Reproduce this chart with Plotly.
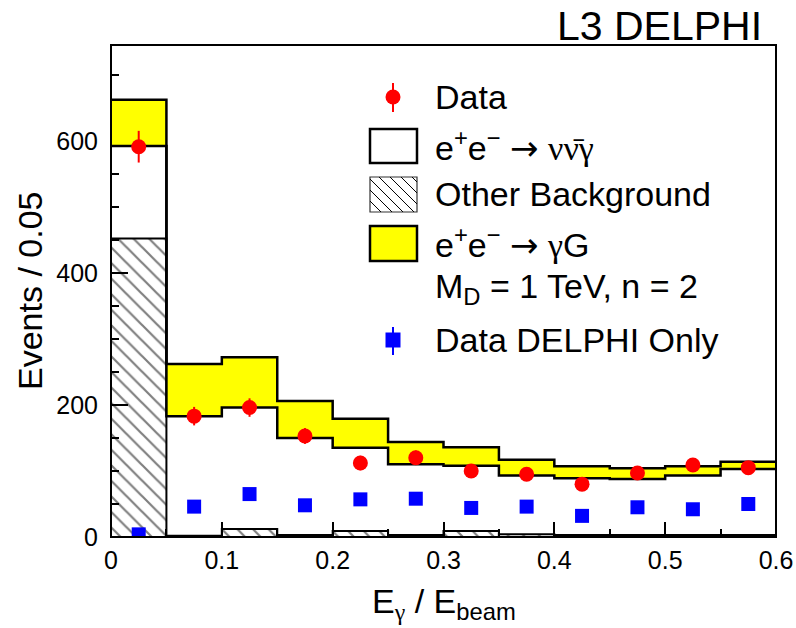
import numpy as np
import plotly.graph_objects as go

# Binning in E_gamma / E_beam
bin_edges = [0.0, 0.05, 0.10, 0.15, 0.20, 0.25, 0.30, 0.35, 0.40, 0.45, 0.50, 0.55, 0.60]

# Expected contributions per bin (stacked in this order)
other_bkg = [452, 2, 12, 3, 9, 3, 9, 4, 3, 3, 3, 3]
nunugamma = [140, 181, 184, 147, 126, 107, 99, 89, 86, 85, 90, 100]
gamma_grav = [70, 79, 76, 56, 44, 34, 28, 24, 18, 16, 14, 11]

# Combined data and DELPHI-only data
data_all = [591, 183, 196, 153, 112, 120, 100, 95, 80, 97, 109, 105]
data_all_err = [24, 14, 14, 12, 11, 11, 10, 10, 9, 10, 10, 10]
data_delphi = [4, 46, 65, 48, 57, 58, 44, 46, 32, 45, 42, 50]
data_delphi_err = [2, 7, 8, 7, 8, 8, 7, 7, 6, 7, 6, 7]

x_ticks = [0, 0.1, 0.2, 0.3, 0.4, 0.5, 0.6]
y_ticks = [0, 200, 400, 600]

edges = np.array(bin_edges)
centers = 0.5 * (edges[:-1] + edges[1:])
widths = np.diff(edges)
stack_nng = np.array(other_bkg) + np.array(nunugamma)
stack_all = stack_nng + np.array(gamma_grav)


def step_y(vals):
    v = list(vals)
    return v + [v[-1]]


FONT = "Liberation Sans, Arial, Helvetica, sans-serif"
GREEK = "Liberation Serif, Times New Roman, serif"
ARROW = "DejaVu Sans, sans-serif"
W, H = 796, 628
L, R, T, B = 111, 776, 45, 537

fig = go.Figure()

fig.add_trace(go.Bar(
    x=centers, y=other_bkg, width=widths,
    marker=dict(color="rgba(0,0,0,0)",
                line=dict(color="black", width=2),
                pattern=dict(shape="\\", fgcolor="black", bgcolor="rgba(0,0,0,0)",
                             size=11, solidity=0.2)),
    showlegend=False, hoverinfo="skip"))

fig.add_trace(go.Scatter(
    x=edges, y=step_y(stack_nng), mode="lines", line_shape="hv",
    line=dict(color="black", width=2.5), showlegend=False, hoverinfo="skip"))

fig.add_trace(go.Scatter(
    x=edges, y=step_y(stack_all), mode="lines", line_shape="hv",
    line=dict(color="black", width=2.5), fill="tonexty", fillcolor="#ffff00",
    showlegend=False, hoverinfo="skip"))

fig.add_trace(go.Scatter(
    x=centers, y=data_delphi, mode="markers",
    marker=dict(symbol="square", size=14, color="#0000ff"),
    error_y=dict(type="data", array=data_delphi_err, width=0, thickness=2, color="#0000ff"),
    showlegend=False))

fig.add_trace(go.Scatter(
    x=centers, y=data_all, mode="markers",
    marker=dict(symbol="circle", size=15, color="#ff0000"),
    error_y=dict(type="data", array=data_all_err, width=0, thickness=2, color="#ff0000"),
    showlegend=False))


def px(x):
    return (x - L) / (R - L)


def py(y):
    return (B - y) / (B - T)


shapes = []
# frame
shapes.append(dict(type="rect", xref="paper", yref="paper", x0=0, x1=1, y0=0, y1=1,
                   line=dict(color="black", width=2), layer="above"))

# legend keys
lx0, lx1 = 370, 417
kx = 393
# Data
shapes.append(dict(type="line", xref="paper", yref="paper", x0=px(kx), x1=px(kx),
                   y0=py(83), y1=py(112), line=dict(color="#ff0000", width=2)))
shapes.append(dict(type="circle", xref="paper", yref="paper", x0=px(kx - 7.5), x1=px(kx + 7.5),
                   y0=py(97 + 7.5), y1=py(97 - 7.5), fillcolor="#ff0000", line=dict(width=0)))
# nu nubar gamma
shapes.append(dict(type="rect", xref="paper", yref="paper", x0=px(lx0), x1=px(lx1),
                   y0=py(163), y1=py(129), fillcolor="white", line=dict(color="black", width=2.5)))
# other background (hatched)
hy0, hy1 = 177, 212
shapes.append(dict(type="rect", xref="paper", yref="paper", x0=px(lx0), x1=px(lx1),
                   y0=py(hy1), y1=py(hy0), fillcolor="white", line=dict(color="#333333", width=1.2)))
segs = []
h = hy1 - hy0
c = lx0 - h
while c < lx1:
    xs, ys = c, hy0
    if xs < lx0:
        ys = hy0 + (lx0 - c)
        xs = lx0
    xe, ye = c + h, hy1
    if xe > lx1:
        ye = hy0 + (lx1 - c)
        xe = lx1
    if xe > xs:
        segs.append(f"M{px(xs):.5f},{py(ys):.5f} L{px(xe):.5f},{py(ye):.5f}")
    c += 11
shapes.append(dict(type="path", xref="paper", yref="paper", path=" ".join(segs),
                   line=dict(color="black", width=1)))
# gamma G
shapes.append(dict(type="rect", xref="paper", yref="paper", x0=px(lx0), x1=px(lx1),
                   y0=py(261), y1=py(226), fillcolor="#ffff00", line=dict(color="black", width=2.5)))
# DELPHI only
shapes.append(dict(type="line", xref="paper", yref="paper", x0=px(kx), x1=px(kx),
                   y0=py(327), y1=py(355), line=dict(color="#0000ff", width=2)))
shapes.append(dict(type="rect", xref="paper", yref="paper", x0=px(kx - 7.5), x1=px(kx + 7.5),
                   y0=py(340 + 7.5), y1=py(340 - 7.5), fillcolor="#0000ff", line=dict(width=0)))

g = lambda s: f"<span style='font-family:{GREEK}'>{s}</span>"
arrow = f"<span style='font-family:{ARROW}'>\u2192</span>"
legend_rows = [
    (97, "Data"),
    (146, "e<sup>+</sup>e<sup>\u2212</sup> " + arrow + " " + g("\u03bd\u03bd\u0304\u03b3")),
    (194, "Other Background"),
    (243, "e<sup>+</sup>e<sup>\u2212</sup> " + arrow + " " + g("\u03b3") + "G"),
    (288, "M<sub>D</sub> = 1 TeV, n = 2"),
    (340, "Data DELPHI Only"),
]
annotations = []
for yy, txt in legend_rows:
    annotations.append(dict(x=px(433), y=py(yy), xref="paper", yref="paper", text=txt,
                            showarrow=False, xanchor="left", yanchor="middle",
                            font=dict(family=FONT, size=34, color="black")))

annotations.append(dict(x=px(764), y=py(26), xref="paper", yref="paper", text="L3 DELPHI",
                        showarrow=False, xanchor="right", yanchor="middle",
                        font=dict(family=FONT, size=41, color="black")))
annotations.append(dict(x=0.5, y=py(603), xref="paper", yref="paper",
                        text="E<sub>" + g("\u03b3") + "</sub> / E<sub>beam</sub>",
                        showarrow=False, xanchor="center", yanchor="middle",
                        font=dict(family=FONT, size=34, color="black")))
annotations.append(dict(x=px(30), y=0.5, xref="paper", yref="paper", text="Events / 0.05",
                        textangle=-90, showarrow=False, xanchor="center", yanchor="middle",
                        font=dict(family=FONT, size=34, color="black")))

fig.update_layout(
    width=W, height=H,
    margin=dict(l=L, r=W - R, t=T, b=H - B, pad=0, autoexpand=False),
    paper_bgcolor="white", plot_bgcolor="white",
    barmode="overlay",
    shapes=shapes, annotations=annotations,
    font=dict(family=FONT, size=24, color="black"),
)
fig.update_xaxes(
    range=[0, 0.6], tickvals=x_ticks, ticktext=[f"{v:g}" for v in x_ticks],
    ticks="inside", ticklen=15, tickwidth=2, tickcolor="black",
    minor=dict(dtick=0.05, tick0=0, ticks="inside", ticklen=8, tickwidth=2, tickcolor="black"),
    showgrid=False, zeroline=False, showline=False, layer="below traces", automargin=False,
    tickfont=dict(family=FONT, size=25), ticklabelstandoff=6,
)
fig.update_yaxes(
    range=[0, 745], tickvals=y_ticks,
    ticks="inside", ticklen=17, tickwidth=2, tickcolor="black",
    minor=dict(dtick=50, tick0=0, ticks="inside", ticklen=8, tickwidth=2, tickcolor="black"),
    showgrid=False, zeroline=False, showline=False, layer="below traces", automargin=False,
    tickfont=dict(family=FONT, size=25), ticklabelstandoff=12,
)

fig.write_html("out.html")
